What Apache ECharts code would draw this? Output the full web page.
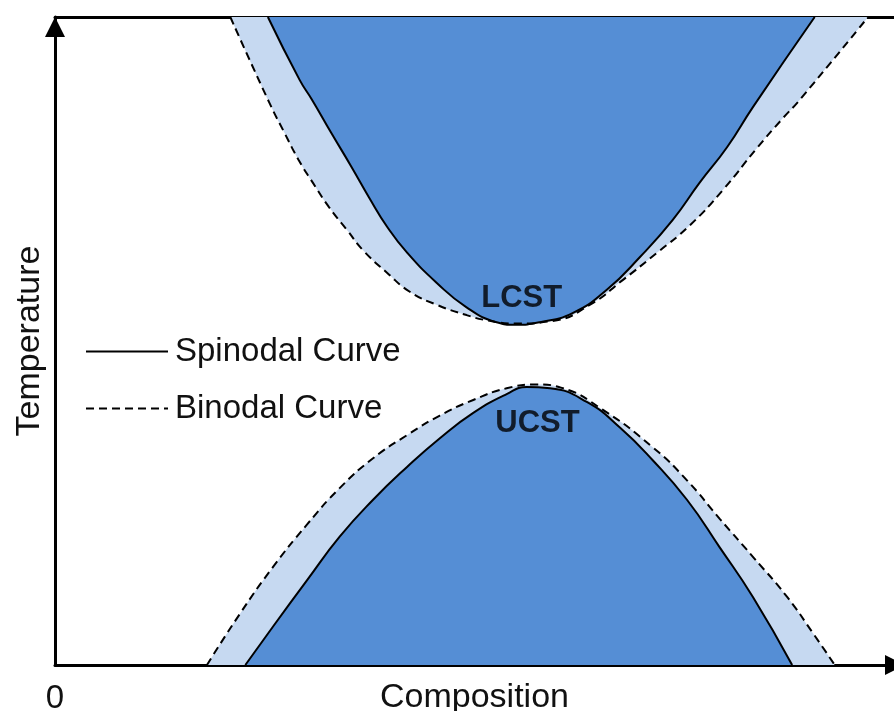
<!DOCTYPE html>
<html>
<head>
<meta charset="utf-8">
<style>
  html, body { margin: 0; padding: 0; background: #fff; }
  #main { width: 894px; height: 711px; }
</style>
<script src="https://cdn.jsdelivr.net/npm/echarts@6/dist/echarts.min.js"></script>
</head>
<body>
<div id="main"></div>
<script>
// composition (0..1), temperature (0..1, top line = 1)
var lcstSpinodal = [[0.255, 1.000], [0.293, 0.903], [0.308, 0.872], [0.331, 0.821], [0.355, 0.769], [0.376, 0.722], [0.398, 0.676], [0.422, 0.636], [0.457, 0.590], [0.493, 0.552], [0.529, 0.529], [0.551, 0.525], [0.581, 0.529], [0.620, 0.543], [0.661, 0.579], [0.701, 0.630], [0.740, 0.687], [0.772, 0.744], [0.805, 0.799], [0.836, 0.861], [0.910, 1.000]]
var lcstBinodal = [[0.210, 1.000], [0.257, 0.867], [0.275, 0.821], [0.292, 0.779], [0.309, 0.744], [0.328, 0.707], [0.350, 0.671], [0.369, 0.640], [0.398, 0.605], [0.425, 0.576], [0.457, 0.556], [0.493, 0.540], [0.517, 0.532], [0.551, 0.527], [0.596, 0.531], [0.641, 0.556], [0.680, 0.594], [0.721, 0.636], [0.760, 0.678], [0.800, 0.733], [0.841, 0.798], [0.872, 0.844], [0.892, 0.872], [0.974, 1.000]]
var ucstSpinodal = [[0.228, 0], [0.261, 0.059], [0.302, 0.131], [0.341, 0.198], [0.381, 0.255], [0.422, 0.306], [0.461, 0.350], [0.501, 0.389], [0.541, 0.418], [0.565, 0.429], [0.593, 0.427], [0.637, 0.406], [0.677, 0.366], [0.716, 0.316], [0.757, 0.255], [0.796, 0.182], [0.836, 0.105], [0.883, 0]]
var ucstBinodal = [[0.182, 0], [0.222, 0.080], [0.261, 0.151], [0.302, 0.217], [0.341, 0.273], [0.381, 0.319], [0.422, 0.355], [0.461, 0.385], [0.501, 0.409], [0.541, 0.427], [0.577, 0.433], [0.606, 0.428], [0.656, 0.394], [0.716, 0.336], [0.757, 0.285], [0.796, 0.226], [0.836, 0.167], [0.877, 0.105], [0.908, 0.049], [0.934, 0]]
var pointLabels = [
  { name: 'LCST', value: [0.559, 0.566] },
  { name: 'UCST', value: [0.578, 0.372] }
]
var xTicks = [0]

var FONT = "'Liberation Sans', Arial, sans-serif"
var DARK = '#558ed5'
var LIGHT = '#c6d9f1'

var chart = echarts.init(document.getElementById('main'))

function curve(name, data, dashed, fill, origin) {
  return {
    name: name,
    type: 'line',
    data: data,
    smooth: 0.5,
    symbol: 'none',
    lineStyle: { color: '#000', width: 2, type: dashed ? [8, 5] : 'solid' },
    areaStyle: { color: fill, opacity: 1, origin: origin },
    itemStyle: { color: '#000' },
    silent: true
  }
}

var option = {
  animation: false,
  grid: { left: 55, right: 0, top: 17, bottom: 46, outerBoundsMode: 'none', containLabel: false },
  legend: {
    orient: 'vertical',
    left: 80,
    top: 330,
    itemWidth: 82,
    itemHeight: 2,
    itemGap: 24,
    itemStyle: { opacity: 0 },
    data: ['Spinodal Curve', 'Binodal Curve'],
    textStyle: { fontFamily: FONT, fontSize: 33, color: '#111', padding: [0, 0, 0, 2] }
  },
  xAxis: [{
    type: 'value',
    min: 0,
    max: 1.005,
    name: 'Composition',
    nameLocation: 'middle',
    nameGap: 16,
    nameMoveOverlap: false,
    nameTextStyle: { fontFamily: FONT, fontSize: 34, color: '#111', verticalAlign: 'top' },
    axisLine: { lineStyle: { color: '#000', width: 3 }, symbol: ['none', 'triangle'], symbolSize: [20, 20], symbolOffset: [0, 1] },
    axisTick: { show: false },
    splitLine: { show: false },
    axisLabel: { customValues: xTicks, fontFamily: FONT, fontSize: 33, color: '#111', margin: 17 }
  }, {
    type: 'value',
    position: 'top',
    min: 0,
    max: 1.005,
    axisLine: { lineStyle: { color: '#000', width: 3 } },
    axisTick: { show: false },
    axisLabel: { show: false },
    splitLine: { show: false }
  }],
  yAxis: {
    type: 'value',
    min: 0,
    max: 1,
    name: 'Temperature',
    nameLocation: 'middle',
    nameRotate: 90,
    nameGap: 8,
    nameMoveOverlap: false,
    nameTextStyle: { fontFamily: FONT, fontSize: 34, color: '#111' },
    axisLine: { lineStyle: { color: '#000', width: 3 }, symbol: ['none', 'triangle'], symbolSize: [20, 20], symbolOffset: [0, -10] },
    axisTick: { show: false },
    axisLabel: { show: false },
    splitLine: { show: false }
  },
  series: [
    curve('Binodal Curve', lcstBinodal, true, LIGHT, 'end'),
    curve('Binodal Curve', ucstBinodal, true, LIGHT, 'start'),
    curve('Spinodal Curve', lcstSpinodal, false, DARK, 'end'),
    curve('Spinodal Curve', ucstSpinodal, false, DARK, 'start'),
    {
      type: 'scatter',
      data: pointLabels,
      symbolSize: 1,
      itemStyle: { color: 'rgba(0,0,0,0)' },
      silent: true,
      z: 5,
      label: {
        show: true,
        position: 'inside',
        formatter: '{b}',
        fontFamily: FONT,
        fontSize: 31,
        fontWeight: 'bold',
        color: '#000'
      }
    }
  ]
}

chart.setOption(option)
</script>
</body>
</html>
